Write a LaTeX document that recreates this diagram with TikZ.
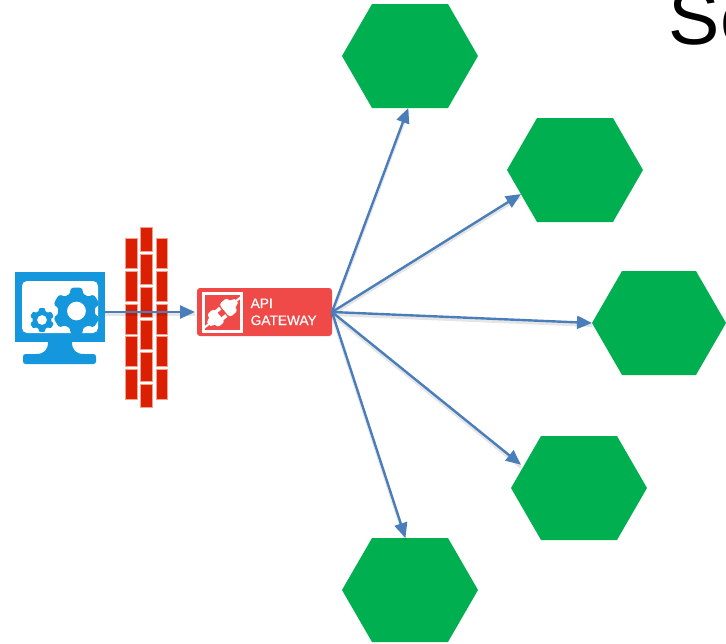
\documentclass[tikz,border=0pt]{standalone}
\usepackage{fontspec}
\setmainfont{Liberation Sans}
\newfontfamily\gwfont[FakeBold=0.35]{Liberation Sans}
\usetikzlibrary{shapes.symbols,arrows.meta}
\definecolor{hexgreen}{HTML}{00B050}
\definecolor{flowblue}{HTML}{4A7EBB}
\definecolor{iconblue}{HTML}{1497DC}
\definecolor{brickred}{HTML}{DA1F03}
\definecolor{brickedge}{HTML}{F2A090}
\definecolor{gatewayred}{HTML}{EF4A48}
\tikzset{
  service/.style={signal,signal to=west and east,signal pointer angle=120,fill=hexgreen,draw=none,
    minimum width=136pt,minimum height=104pt,inner sep=0pt,outer sep=0pt},
  flow/.style={draw=flowblue,line width=2.4pt,-{Triangle[length=15pt,width=13pt]},
    preaction={draw=black,draw opacity=.10,line width=3pt,-,transform canvas={yshift=-2.5pt}}},
  brick/.style={fill=brickred,draw=brickedge,line width=.7pt},
  gatewaybox/.style={fill=gatewayred,rounded corners=3pt,minimum width=135pt,minimum height=48pt,inner sep=0pt,outer sep=0pt},
  screenframe/.style={fill=iconblue,minimum width=90pt,minimum height=70pt,inner sep=0pt,outer sep=0pt},
  gwtext/.style={text=white,font=\gwfont\fontsize{13.7}{15}\selectfont,inner sep=0pt,anchor=base west},
  plug/.style={fill=white,draw=none}
}
\newcommand{\gearshape}[4]{% cx cy R hole
  \fill[iconblue,even odd rule] plot[smooth cycle,samples=72,domain=0:355,variable=\t]
    ({#1+#3*(.89-.11*min(1,max(-1,2.5*cos(6*\t)-.6)))*cos(\t)},{-#2+#3*(.89-.11*min(1,max(-1,2.5*cos(6*\t)-.6)))*sin(\t)})
    (#1+#4,-#2) arc[start angle=0,end angle=360,radius=#4];
}
\begin{document}
\begin{tikzpicture}[x=1pt,y=1pt]
\useasboundingbox (0,0) rectangle (726,-643);
\clip (0,0) rectangle (726,-643);
\fill[white] (0,0) rectangle (726,-643);
% services
\node[service] (hex1) at (410,-56) {};
\node[service] (hex2) at (575,-170) {};
\node[service,minimum width=134pt] (hex3) at (659,-323) {};
\node[service] (hex4) at (579,-488) {};
\node[service] (hex5) at (410,-590) {};
% title fragment
\node[anchor=base west,inner sep=0pt,font=\fontsize{77}{77}\selectfont] (title) at (668.5,-44) {Se};
% monitor
\node[screenframe] (monitor) at (60,-307) {};
\fill[white,rounded corners=5pt] (22,-281) rectangle (98,-333);
\begin{scope}
  \clip (15,-272) rectangle (105,-342);
  \gearshape{76.5}{311}{23.5}{9.5}
  \gearshape{42}{320}{12}{5}
\end{scope}
\fill[iconblue] (48,-342) .. controls (48,-350) and (44,-354) .. (36,-354) -- (84,-354) .. controls (76,-354) and (72,-350) .. (72,-342) -- cycle;
\fill[iconblue,rounded corners=2.5pt] (23,-354) rectangle (96,-364);
% firewall
\foreach \a/\b in {238/268,271/301,304/334,336/366,369/399}{
  \draw[brick] (125.5,-\a) rectangle (137,-\b);
  \draw[brick] (156,-\a) rectangle (167.5,-\b);
}
\foreach \a/\b in {227/251,254/284,287/317,320/349,352/381,384/407}{
  \draw[brick] (140.5,-\a) rectangle (152,-\b);
}
% gateway
\node[gatewaybox] (gw) at (264.5,-312) {};
\draw[white,line width=2.2pt] (203.5,-293.5) rectangle (241.5,-331.5);
\begin{scope}[shift={(222.5,-312.5)},rotate=40]
  % socket half, upper right
  \fill[plug,rounded corners=3pt] (2.5,-8.5) rectangle (13,8.5);
  \fill[plug] (10,-6) -- (18,-2.5) -- (18,2.5) -- (10,6) -- cycle;
  \draw[white,line width=2pt] (16,0) -- (25,0);
  % plug half, lower left
  \fill[plug,rounded corners=3pt] (-13.5,-8.5) rectangle (-4,8.5);
  \fill[plug] (-5,-6.5) rectangle (1,-3);
  \fill[plug] (-5,3) rectangle (1,6.5);
  \fill[plug] (-11,-6) -- (-18,-2.5) -- (-18,2.5) -- (-11,6) -- cycle;
  \draw[white,line width=2pt] (-16,0) -- (-25,0);
\end{scope}
\node[gwtext] (gwa) at (250.5,-308) {API};
\node[gwtext] (gwb) at (250.5,-325) {GATEWAY};
% connectors
\draw[flow,shorten >=2pt] ([yshift=-5pt]monitor.east) -- (gw.west);
\draw[flow] (gw.east) -- (hex1.268);
\draw[flow] (gw.east) -- (hex2.204);
\draw[flow] (gw.east) -- (hex3.west);
\draw[flow,shorten >=3pt] (gw.east) -- (hex4.159);
\draw[flow] (gw.east) -- (hex5.95);
\end{tikzpicture}
\end{document}
